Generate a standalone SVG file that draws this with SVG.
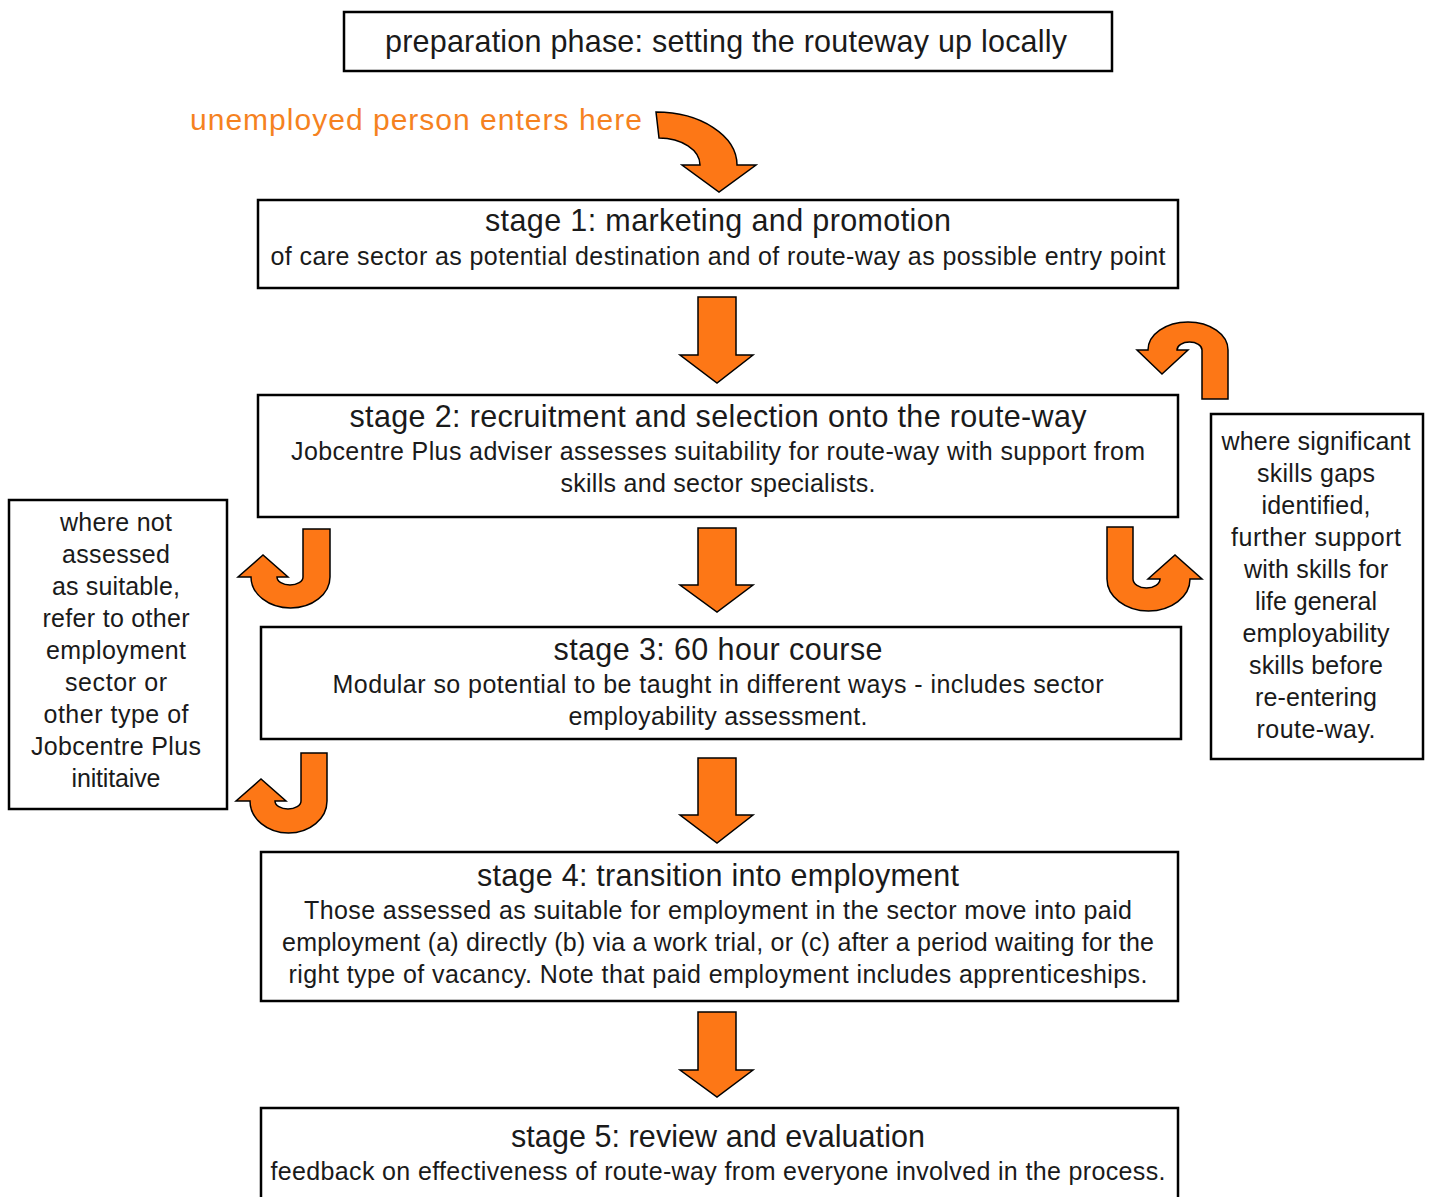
<svg xmlns="http://www.w3.org/2000/svg" width="1429" height="1197" viewBox="0 0 1429 1197">
<style>
.box{fill:#fff;stroke:#000;stroke-width:2.5}
.arr{fill:#FD7716;stroke:#000;stroke-width:1.5;stroke-linejoin:miter}
text{font-family:"Liberation Sans",Arial,sans-serif;fill:#1a1a1a;text-anchor:middle}
.t{font-size:30.5px}
.s{font-size:25px}
.o{font-size:30px;fill:#F5821F;text-anchor:start}
</style>
<rect width="1429" height="1197" fill="#fff"/>
<g id="prep">
<rect class="box" x="344" y="12" width="768" height="59"/>
<text class="t" x="726" y="52" textLength="682">preparation phase: setting the routeway up locally</text>
</g>
<g id="entry-label">
<text class="o" x="190" y="130" textLength="452">unemployed person enters here</text>
</g>
<g id="stage1">
<rect class="box" x="258" y="200" width="920" height="88"/>
<text class="t" x="718" y="231" textLength="466">stage 1: marketing and promotion</text>
<text class="s" x="718" y="265" textLength="895">of care sector as potential destination and of route-way as possible entry point</text>
</g>
<g id="stage2">
<rect class="box" x="258" y="395" width="920" height="122"/>
<text class="t" x="718" y="427" textLength="737">stage 2: recruitment and selection onto the route-way</text>
<text class="s" x="718" y="460" textLength="854">Jobcentre Plus adviser assesses suitability for route-way with support from</text>
<text class="s" x="718" y="492" textLength="315">skills and sector specialists.</text>
</g>
<g id="stage3">
<rect class="box" x="261" y="627" width="920" height="112"/>
<text class="t" x="718" y="660" textLength="329">stage 3: 60 hour course</text>
<text class="s" x="718" y="693" textLength="771">Modular so potential to be taught in different ways - includes sector</text>
<text class="s" x="718" y="725" textLength="299">employability assessment.</text>
</g>
<g id="stage4">
<rect class="box" x="261" y="852" width="917" height="149"/>
<text class="t" x="718" y="886" textLength="482">stage 4: transition into employment</text>
<text class="s" x="718" y="919" textLength="828">Those assessed as suitable for employment in the sector move into paid</text>
<text class="s" x="718" y="951" textLength="872">employment (a) directly (b) via a work trial, or (c) after a period waiting for the</text>
<text class="s" x="718" y="983" textLength="859">right type of vacancy. Note that paid employment includes apprenticeships.</text>
</g>
<g id="stage5">
<rect class="box" x="261" y="1108" width="917" height="100"/>
<text class="t" x="718" y="1147" textLength="414">stage 5: review and evaluation</text>
<text class="s" x="718" y="1180" textLength="895">feedback on effectiveness of route-way from everyone involved in the process.</text>
</g>
<g id="not-suitable">
<rect class="box" x="9" y="500" width="218" height="309"/>
<text class="s" x="116" y="531" textLength="112">where not</text>
<text class="s" x="116" y="563" textLength="108">assessed</text>
<text class="s" x="116" y="595" textLength="128">as suitable,</text>
<text class="s" x="116" y="627" textLength="147">refer to other</text>
<text class="s" x="116" y="659" textLength="140">employment</text>
<text class="s" x="116" y="691" textLength="102">sector or</text>
<text class="s" x="116" y="723" textLength="145">other type of</text>
<text class="s" x="116" y="755" textLength="170">Jobcentre Plus</text>
<text class="s" x="116" y="787" textLength="89">inititaive</text>
</g>
<g id="skills-gaps">
<rect class="box" x="1211" y="414" width="212" height="345"/>
<text class="s" x="1316" y="450" textLength="189">where significant</text>
<text class="s" x="1316" y="482" textLength="118">skills gaps</text>
<text class="s" x="1316" y="514" textLength="109">identified,</text>
<text class="s" x="1316" y="546" textLength="170">further support</text>
<text class="s" x="1316" y="578" textLength="144">with skills for</text>
<text class="s" x="1316" y="610" textLength="122">life general</text>
<text class="s" x="1316" y="642" textLength="147">employability</text>
<text class="s" x="1316" y="674" textLength="134">skills before</text>
<text class="s" x="1316" y="706" textLength="122">re-entering</text>
<text class="s" x="1316" y="738" textLength="119">route-way.</text>
</g>
<g id="connectors">
<path class="arr" d="M656,112 A81,53 0 0 1 737,165 L756,165 L719,192 L682,165 L700,165 A41,27 0 0 0 659,138 Z"/>
<path class="arr" d="M698,297 L736,297 L736,355 L753,355 L717,383 L680,355 L698,355 Z"/>
<path class="arr" d="M698,528 L736,528 L736,585 L753,585 L717,612 L680,585 L698,585 Z"/>
<path class="arr" d="M698,758 L736,758 L736,815 L753,815 L717,843 L680,815 L698,815 Z"/>
<path class="arr" d="M698,1012 L736,1012 L736,1070 L753,1070 L717,1097 L680,1070 L698,1070 Z"/>
<path class="arr" d="M1202,399 L1228,399 L1228,350 A40,28 0 0 0 1148,350 L1137,350 L1162,374 L1188,350 L1177,350 A12.5,8 0 0 1 1202,350 Z"/>
<path class="arr" d="M303,529 L330,529 L330,577 A39.5,31 0 0 1 251,577 L238,577 L263,555 L288,577 L277,577 A13,8 0 0 0 303,577 Z"/>
<path class="arr" d="M301,753 L327,753 L327,801 A38.5,32 0 0 1 250,801 L236,801 L261,779 L286,801 L275,801 A13,8 0 0 0 301,801 Z"/>
<path class="arr" d="M1107,527 L1133,527 L1133,579 A13.5,9 0 0 0 1160,579 L1148,579 L1175,555 L1202,579 L1190,579 A41.5,32 0 0 1 1107,579 Z"/>
</g>
</svg>
